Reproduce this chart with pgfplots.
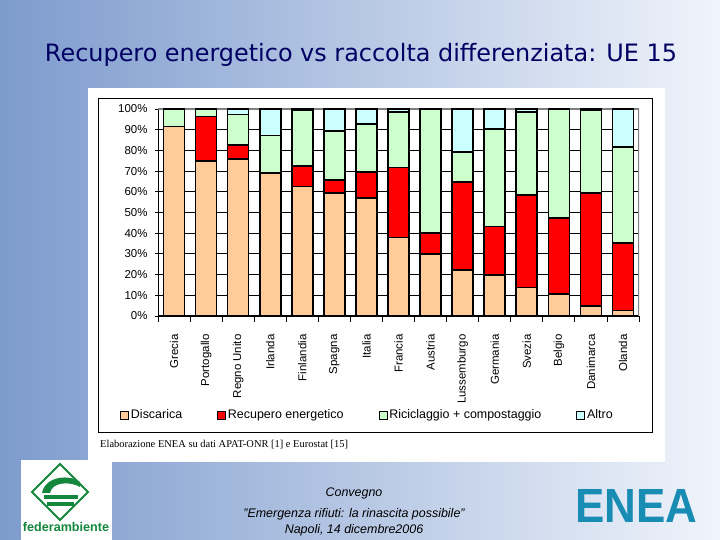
\documentclass[border=0pt]{standalone}
\usepackage{fontspec}
\setmainfont{Liberation Sans}
\newfontfamily\seriffont{Liberation Serif}
\newfontfamily\titlefont{DejaVu Sans}
\usepackage{pgfplots}
\pgfplotsset{compat=1.18}
\usepackage{pgfplotstable}
\definecolor{disc}{HTML}{FFCC99}
\definecolor{recu}{HTML}{FF0000}
\definecolor{rici}{HTML}{CCFFCC}
\definecolor{altr}{HTML}{CCFFFF}
\definecolor{bgL}{RGB}{125,155,205}
\definecolor{bgM}{RGB}{178,198,230}
\definecolor{bgR}{RGB}{240,244,251}
\definecolor{titleblue}{RGB}{0,0,100}
\definecolor{fedgreen}{RGB}{20,135,60}
\definecolor{eneablue}{RGB}{25,140,180}

\pgfplotstableread{
x dis rec ric alt
0 91.5 0 8.5 0
1 75 21.3 3.7 0
2 75.7 6.9 14.8 2.6
3 69 0 18.1 12.9
4 62.5 10 27 0.5
5 59.3 6.4 23.7 10.6
6 56.9 12.8 23.1 7.2
7 38 33.8 26.6 1.6
8 30 10 60 0
9 22.2 42.4 14.5 20.9
10 19.8 23.4 47.1 9.7
11 13.7 44.8 39.9 1.6
12 10.6 36.6 52.8 0
13 4.8 54.5 40.2 0.5
14 2.6 32.8 46.1 18.5
}\datatable

\begin{document}
\begin{tikzpicture}[x=1bp,y=1bp]
\useasboundingbox (0,0) rectangle (720,540);
\shade[left color=bgL, middle color=bgM, right color=bgR] (0,0) rectangle (720,540);
% title
\node[anchor=base, text=titleblue, inner sep=0] at (361,478)
  {\resizebox{632bp}{!}{\titlefont Recupero energetico vs raccolta differenziata: UE 15}};
% chart panel
\fill[white] (88,78) rectangle (665,452);
\draw[black, line width=0.8bp] (98,108) rectangle (652,442);
\node[anchor=base west, inner sep=0, font=\seriffont\fontsize{10.5}{12}\selectfont] at (100,92)
  {Elaborazione ENEA su dati APAT-ONR [1] e Eurostat [15]};
\begin{axis}[
  at={(158bp,224bp)}, anchor=south west, scale only axis,
  width=481bp, height=207bp,
  ybar stacked, bar width=21bp,
  xmin=-0.5, xmax=14.5, ymin=0, ymax=100,
  axis x line*=bottom, axis y line*=left,
  axis line style={black, line width=1bp, -},
  ytick={0,10,...,100},
  yticklabels={0\%,10\%,20\%,30\%,40\%,50\%,60\%,70\%,80\%,90\%,100\%},
  ymajorgrids, grid style={black, line width=0.8bp},
  ytick align=center, major tick length=6bp,
  tick style={black, line width=0.8bp},
  xtick={-0.5,0.5,...,14.5},
  xticklabels={},
  xtick align=outside,
  extra x ticks={0,...,14},
  extra x tick labels={Grecia,Portogallo,Regno Unito,Irlanda,Finlandia,Spagna,Italia,Francia,Austria,Lussemburgo,Germania,Svezia,Belgio,Danimarca,Olanda},
  extra x tick style={major tick length=0pt, grid=none,
    xticklabel style={rotate=90, anchor=east}},
  xticklabel shift=15bp,
  tick label style={font=\fontsize{11.5}{13}\selectfont},
  yticklabel style={xshift=-4bp},
  legend style={at={(-0.079,-0.478)}, anchor=west, draw=none, fill=none, inner sep=0pt,
    legend columns=4, font=\fontsize{12.5}{14}\selectfont,
    /tikz/every even column/.append style={column sep=33bp}},
  legend image code/.code={\draw[#1, line width=0.8bp] (0bp,-4bp) rectangle (8bp,4bp);},
]
\addplot[fill=disc, draw=black, line width=1.6bp] table[x=x,y=dis]{\datatable};
\addlegendentry{Discarica}
\addplot[fill=recu, draw=black, line width=1.6bp] table[x=x,y=rec]{\datatable};
\addlegendentry{Recupero energetico}
\addplot[fill=rici, draw=black, line width=1.6bp] table[x=x,y=ric]{\datatable};
\addlegendentry{Riciclaggio + compostaggio}
\addplot[fill=altr, draw=black, line width=1.6bp] table[x=x,y=alt]{\datatable};
\addlegendentry{Altro}
\draw[gray, line width=1.5bp] (rel axis cs:0,1) -- (rel axis cs:1,1) -- (rel axis cs:1,0);
\end{axis}
% footer
\node[anchor=base, font=\itshape\fontsize{12.5}{14}\selectfont] at (354,43) {Convegno};
\node[anchor=base, font=\itshape\fontsize{12.5}{14}\selectfont] at (354,22) {"Emergenza rifiuti: la rinascita possibile"};
\node[anchor=base, font=\itshape\fontsize{12.5}{14}\selectfont] at (354,6) {Napoli, 14 dicembre2006};
% federambiente logo
\fill[white] (21,0) rectangle (112,80);
\draw[fedgreen, line width=2bp] (60,76) -- (88,48) -- (60,20) -- (32,48) -- cycle;
\fill[fedgreen] (42,47) .. controls (45,64) and (70,66) .. (80,58) -- (80,53) .. controls (70,59) and (52,58) .. (50,47) -- cycle;
\fill[fedgreen] (44,45) rectangle (78,41);
\fill[fedgreen] (47,38) rectangle (74,34);
\node[anchor=base, inner sep=0, text=fedgreen] at (66,8) {\resizebox{86bp}{!}{\bfseries federambiente}};
% ENEA logo
\node[inner sep=0, text=eneablue] at (636,34) {\resizebox{122bp}{33bp}{\bfseries ENEA}};
\end{tikzpicture}
\end{document}
